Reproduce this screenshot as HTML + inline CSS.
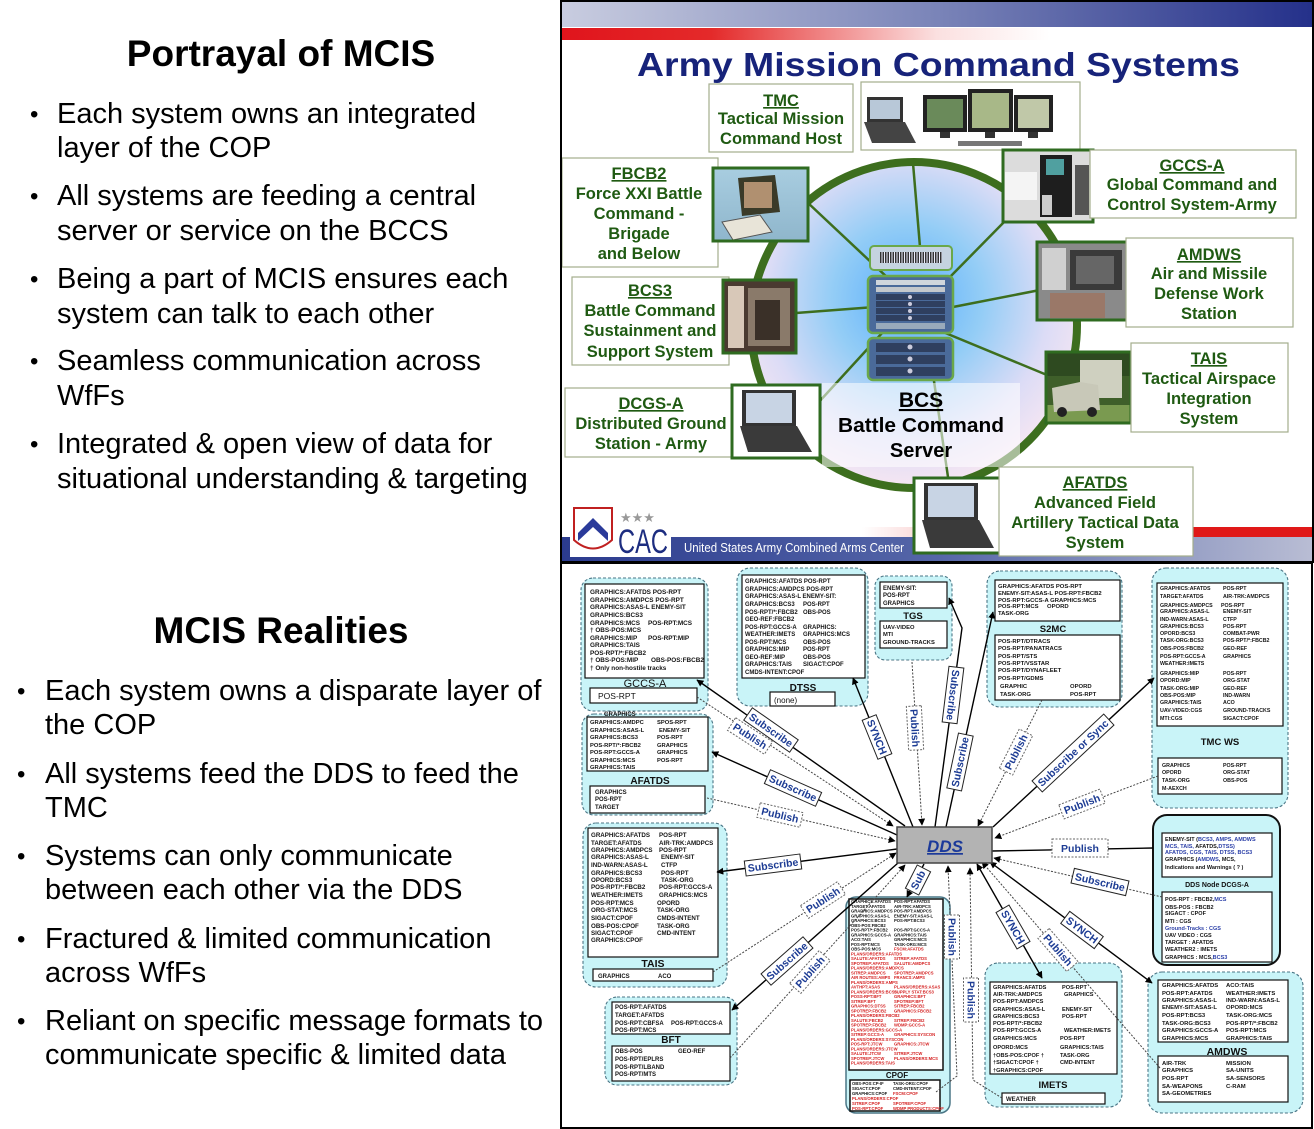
<!DOCTYPE html>
<html><head><meta charset="utf-8"><style>
html,body{margin:0;padding:0;background:#fff;}
svg{display:block;}
text{font-family:"Liberation Sans",Arial,sans-serif;}
.n{font-weight:bold;fill:#151515;}
.g{fill:#1f5a12;font-weight:bold;font-size:16.5px;text-anchor:middle;}
.lt{fill:#1d3c94;font-weight:bold;font-size:10.5px;text-anchor:middle;}
.no{fill:#c9f4f8;stroke:#4b7686;stroke-width:1.1;stroke-dasharray:3 2;}
.ib{fill:#fff;stroke:#111;stroke-width:1.2;}
.lb{fill:#fff;stroke:#222;stroke-width:1;}
.ld{fill:#fff;stroke:#666;stroke-width:1;stroke-dasharray:2 1.5;}
.tb{fill:#fff;stroke:#a3ad8c;stroke-width:1.2;}
.fr{fill:none;stroke:#2f6b20;stroke-width:3;}
.red{fill:#d42020;}
.blu{fill:#2b3fa8;}
.nl{font-weight:bold;text-anchor:middle;fill:#111;}
.sl{stroke:#000;stroke-width:1.4;fill:none;}
.dl{stroke:#444;stroke-width:1;stroke-dasharray:2 1.5;fill:none;}
</style></head><body>
<svg width="1314" height="1129" viewBox="0 0 1314 1129" xmlns="http://www.w3.org/2000/svg">
<defs>
<linearGradient id="topband" x1="0" x2="1"><stop offset="0" stop-color="#c9cde0"/><stop offset="0.5" stop-color="#7a84b8"/><stop offset="1" stop-color="#24308a"/></linearGradient>
<linearGradient id="redtop" x1="0" x2="1"><stop offset="0" stop-color="#e0141c"/><stop offset="0.2" stop-color="#e42a2a"/><stop offset="0.5" stop-color="#fbe0e0"/><stop offset="0.65" stop-color="#fff"/></linearGradient>
<linearGradient id="redbot" x1="0" x2="1"><stop offset="0" stop-color="#fff"/><stop offset="0.4" stop-color="#fff"/><stop offset="0.55" stop-color="#f6b8b8"/><stop offset="0.8" stop-color="#e01818"/><stop offset="1" stop-color="#e01818"/></linearGradient>
<linearGradient id="bluebot" x1="0" x2="1"><stop offset="0" stop-color="#2b3b8e"/><stop offset="0.5" stop-color="#5566a8"/><stop offset="1" stop-color="#b9bdd4"/></linearGradient>
<radialGradient id="rg" cx="0.48" cy="0.42" r="0.58"><stop offset="0" stop-color="#58aefc"/><stop offset="0.4" stop-color="#94cdf6"/><stop offset="0.75" stop-color="#dcdcf6"/><stop offset="1" stop-color="#f6e6f2"/></radialGradient>
<linearGradient id="fbg" x1="0" y1="0" x2="0" y2="1"><stop offset="0" stop-color="#a8cde0"/><stop offset="1" stop-color="#8fb6cc"/></linearGradient>
<marker id="ae" viewBox="0 0 10 10" refX="9" refY="5" markerWidth="7" markerHeight="7" markerUnits="userSpaceOnUse" orient="auto"><path d="M0,0L10,5L0,10z" fill="#000"/></marker>
<marker id="as" viewBox="0 0 10 10" refX="9" refY="5" markerWidth="7" markerHeight="7" markerUnits="userSpaceOnUse" orient="auto-start-reverse"><path d="M0,0L10,5L0,10z" fill="#000"/></marker>
</defs>

<!-- LEFT TEXT -->
<g fill="#000">
<text x="281" y="66" font-size="37" font-weight="bold" text-anchor="middle">Portrayal of MCIS</text>
<g font-size="24"><text x="30" y="122">•</text><text x="30" y="204">•</text><text x="30" y="287">•</text><text x="30" y="369">•</text><text x="30" y="452">•</text></g>
<g font-size="29">
<text x="57" y="123">Each system owns an integrated</text>
<text x="57" y="157">layer of the COP</text>
<text x="57" y="205">All systems are feeding a central</text>
<text x="57" y="240">server or service on the BCCS</text>
<text x="57" y="288">Being a part of MCIS ensures each</text>
<text x="57" y="323">system can talk to each other</text>
<text x="57" y="370">Seamless communication across</text>
<text x="57" y="405">WfFs</text>
<text x="57" y="453">Integrated &amp; open view of data for</text>
<text x="57" y="488">situational understanding &amp; targeting</text>
</g>
<text x="281" y="643" font-size="37" font-weight="bold" text-anchor="middle">MCIS Realities</text>
<g font-size="24"><text x="17" y="699">•</text><text x="17" y="782">•</text><text x="17" y="864">•</text><text x="17" y="947">•</text><text x="17" y="1029">•</text></g>
<g font-size="29">
<text x="45" y="700">Each system owns a disparate layer of</text>
<text x="45" y="734">the COP</text>
<text x="45" y="783">All systems feed the DDS to feed the</text>
<text x="45" y="817">TMC</text>
<text x="45" y="865">Systems can only communicate</text>
<text x="45" y="899">between each other via the DDS</text>
<text x="45" y="948">Fractured &amp; limited communication</text>
<text x="45" y="982">across WfFs</text>
<text x="45" y="1030">Reliant on specific message formats to</text>
<text x="45" y="1064">communicate specific &amp; limited data</text>
</g>
</g>

<!-- TOP SLIDE -->
<rect x="560" y="0" width="754" height="563" fill="#fff"/>
<rect x="561" y="0" width="752" height="27" fill="url(#topband)"/>
<rect x="561" y="28" width="752" height="12" fill="url(#redtop)"/>
<text x="637" y="76" font-size="33" font-weight="bold" fill="#17237a" textLength="603" lengthAdjust="spacingAndGlyphs">Army Mission Command Systems</text>

<!-- bottom bands -->
<rect x="561" y="527" width="752" height="10" fill="url(#redbot)"/>
<rect x="561" y="537" width="752" height="24" fill="url(#bluebot)"/>
<text x="684" y="552" font-size="13" fill="#fff" textLength="220" lengthAdjust="spacingAndGlyphs">United States Army Combined Arms Center</text>
<rect x="570" y="503" width="101" height="54" fill="#fff"/>
<path d="M574,508 L612,508 L612,540 Q593,557 574,540 Z" fill="#fff" stroke="#c02020" stroke-width="2"/>
<polygon points="578,533 593,518 608,533 608,541 593,527 578,541" fill="#2a3a9a"/>
<text x="620" y="522" font-size="13" fill="#999">★★★</text>
<text x="618" y="553" font-size="34" fill="#1d2d80" textLength="50" lengthAdjust="spacingAndGlyphs">CAC</text>

<!-- ring -->
<circle cx="914" cy="325" r="163" fill="url(#rg)" stroke="#3d6e1e" stroke-width="8"/>
<g stroke="#3d6e1e" stroke-width="2.5">
<line x1="913" y1="163" x2="920" y2="247"/>
<line x1="807" y1="202" x2="890" y2="280"/>
<line x1="1008" y1="218" x2="947" y2="280"/>
<line x1="796" y1="313" x2="875" y2="307"/>
<line x1="1040" y1="290" x2="953" y2="307"/>
<line x1="1047" y1="375" x2="943" y2="332"/>
<line x1="818" y1="403" x2="883" y2="332"/>
<line x1="948" y1="477" x2="928" y2="340"/>
</g>
<!-- rack -->
<rect x="870" y="246" width="82" height="24" rx="4" fill="#c5d3e0" stroke="#6aa84a" stroke-width="2"/>
<rect x="880" y="252" width="62" height="11" fill="#eef"/>
<line x1="880" y1="257.5" x2="942" y2="257.5" stroke="#333" stroke-width="11" stroke-dasharray="1.5 1"/>
<rect x="868" y="276" width="85" height="57" rx="5" fill="#4a6a9a" stroke="#6aa84a" stroke-width="2.5"/>
<rect x="876" y="280" width="69" height="5" fill="#d0d6dc"/>
<rect x="876" y="287" width="69" height="5" fill="#c4c8cc"/>
<rect x="876" y="294" width="69" height="6" fill="#2f3f5f"/>
<rect x="876" y="301" width="69" height="6" fill="#2f3f5f"/>
<rect x="876" y="308" width="69" height="6" fill="#2f3f5f"/>
<rect x="876" y="315" width="69" height="6" fill="#2f3f5f"/>
<rect x="876" y="323" width="69" height="6" fill="#9ab"/>
<rect x="868" y="338" width="85" height="42" rx="5" fill="#4a6a9a" stroke="#6aa84a" stroke-width="2.5"/>
<rect x="876" y="343" width="69" height="9" fill="#2f3f5f"/>
<rect x="876" y="355" width="69" height="9" fill="#2f3f5f"/>
<rect x="876" y="367" width="69" height="9" fill="#2f3f5f"/>
<g fill="#ccd"><circle cx="910" cy="297" r="2"/><circle cx="910" cy="304" r="2"/><circle cx="910" cy="311" r="2"/><circle cx="910" cy="318" r="2"/><circle cx="910" cy="347" r="2.5"/><circle cx="910" cy="359" r="2.5"/><circle cx="910" cy="371" r="2.5"/></g>

<!-- BCS -->
<rect x="822" y="383" width="198" height="84" fill="#fff" fill-opacity="0.55"/>
<text x="921" y="407" font-size="21" font-weight="bold" text-anchor="middle" text-decoration="underline">BCS</text>
<text x="921" y="432" font-size="20" font-weight="bold" text-anchor="middle" textLength="166" lengthAdjust="spacingAndGlyphs">Battle Command</text>
<text x="921" y="457" font-size="20" font-weight="bold" text-anchor="middle">Server</text>

<!-- TMC -->
<rect x="709" y="84" width="144" height="68" class="tb"/>
<text class="g" x="781" y="106" text-decoration="underline">TMC</text>
<text class="g" x="781" y="124">Tactical Mission</text>
<text class="g" x="781" y="144">Command Host</text>
<rect x="861" y="82" width="219" height="68" class="tb"/>
<rect x="867" y="97" width="36" height="25" fill="#333"/><rect x="870" y="100" width="30" height="19" fill="#b8c8d8"/>
<polygon points="864,122 905,122 916,143 872,143" fill="#444"/>
<rect x="923" y="95" width="44" height="37" fill="#222"/><rect x="927" y="99" width="36" height="29" fill="#6a8a5a"/><rect x="940" y="132" width="10" height="6" fill="#333"/>
<rect x="968" y="89" width="45" height="43" fill="#222"/><rect x="972" y="93" width="37" height="35" fill="#a8b888"/><rect x="985" y="132" width="10" height="6" fill="#333"/>
<rect x="1014" y="95" width="39" height="37" fill="#222"/><rect x="1018" y="99" width="31" height="29" fill="#c0c8a8"/><rect x="1028" y="132" width="10" height="6" fill="#333"/>
<rect x="958" y="141" width="64" height="5" fill="#777"/>

<!-- FBCB2 -->
<rect x="562" y="158" width="156" height="109" class="tb"/>
<text class="g" x="639" y="179" text-decoration="underline">FBCB2</text>
<text class="g" x="639" y="199">Force XXI Battle</text>
<text class="g" x="639" y="219">Command -</text>
<text class="g" x="639" y="239">Brigade</text>
<text class="g" x="639" y="259">and Below</text>
<rect x="713" y="168" width="95" height="73" fill="url(#fbg)"/>
<polygon points="738,178 775,175 780,212 742,216" fill="#3a3a28"/><rect x="744" y="182" width="28" height="26" fill="#b09070"/>
<polygon points="722,222 760,215 772,232 733,240" fill="#e8e4d8" stroke="#555"/>
<rect x="713" y="168" width="95" height="73" class="fr"/>

<!-- GCCS-A -->
<rect x="1003" y="150" width="90" height="72" fill="#dcdcdc"/>
<rect x="1005" y="172" width="32" height="28" fill="#f4f4f4"/>
<rect x="1040" y="155" width="32" height="62" fill="#1e1e1e"/><rect x="1046" y="159" width="18" height="16" fill="#50a0a0"/>
<rect x="1042" y="195" width="10" height="20" fill="#ccc"/>
<rect x="1075" y="165" width="14" height="50" fill="#555"/>
<rect x="1003" y="150" width="90" height="72" class="fr"/>
<rect x="1090" y="150" width="206" height="68" class="tb"/>
<text class="g" x="1192" y="171" text-decoration="underline">GCCS-A</text>
<text class="g" x="1192" y="190">Global Command and</text>
<text class="g" x="1192" y="210">Control System-Army</text>

<!-- AMDWS -->
<rect x="1037" y="242" width="91" height="78" fill="#8a8a8a"/>
<rect x="1042" y="248" width="24" height="42" fill="#d0d0d0"/>
<rect x="1070" y="250" width="52" height="40" fill="#3a3a3a"/>
<rect x="1076" y="256" width="38" height="28" fill="#666"/>
<rect x="1050" y="293" width="55" height="25" fill="#9a7868"/>
<rect x="1037" y="242" width="91" height="78" class="fr"/>
<rect x="1126" y="238" width="167" height="89" class="tb"/>
<text class="g" x="1209" y="260" text-decoration="underline">AMDWS</text>
<text class="g" x="1209" y="279">Air and Missile</text>
<text class="g" x="1209" y="299">Defense Work</text>
<text class="g" x="1209" y="319">Station</text>

<!-- BCS3 -->
<rect x="572" y="277" width="157" height="88" class="tb"/>
<text class="g" x="650" y="296" text-decoration="underline">BCS3</text>
<text class="g" x="650" y="316">Battle Command</text>
<text class="g" x="650" y="336">Sustainment and</text>
<text class="g" x="650" y="357">Support System</text>
<rect x="723" y="280" width="73" height="73" fill="#4a3a30"/>
<rect x="728" y="286" width="16" height="62" fill="#d8c8b8"/>
<rect x="748" y="288" width="42" height="58" fill="#8a7a6a"/>
<rect x="755" y="300" width="25" height="40" fill="#3a3028"/>
<rect x="723" y="280" width="73" height="73" class="fr"/>

<!-- TAIS -->
<rect x="1046" y="352" width="85" height="71" fill="#3f5f2a"/>
<rect x="1046" y="352" width="85" height="24" fill="#2e4a20"/>
<rect x="1046" y="405" width="85" height="18" fill="#7a9a50"/>
<rect x="1080" y="360" width="42" height="38" fill="#cfd0c0"/>
<polygon points="1052,388 1080,382 1098,385 1100,410 1054,412" fill="#c8c8b8"/>
<circle cx="1062" cy="412" r="5" fill="#222"/><circle cx="1092" cy="412" r="5" fill="#222"/>
<rect x="1046" y="352" width="85" height="71" class="fr"/>
<rect x="1131" y="343" width="157" height="89" class="tb"/>
<text class="g" x="1209" y="364" text-decoration="underline">TAIS</text>
<text class="g" x="1209" y="384">Tactical Airspace</text>
<text class="g" x="1209" y="404">Integration</text>
<text class="g" x="1209" y="424">System</text>

<!-- DCGS-A -->
<rect x="565" y="388" width="168" height="69" class="tb"/>
<text class="g" x="651" y="409" text-decoration="underline">DCGS-A</text>
<text class="g" x="651" y="429">Distributed Ground</text>
<text class="g" x="651" y="449">Station - Army</text>
<rect x="732" y="385" width="88" height="73" fill="#fff"/>
<rect x="742" y="390" width="54" height="36" fill="#333"/><rect x="746" y="393" width="46" height="30" fill="#c8d4e4"/>
<polygon points="740,426 797,426 812,452 748,452" fill="#3a3a3a"/>
<rect x="732" y="385" width="88" height="73" class="fr"/>

<!-- AFATDS -->
<rect x="914" y="478" width="86" height="75" fill="#fff"/>
<rect x="924" y="483" width="54" height="37" fill="#333"/><rect x="928" y="486" width="46" height="31" fill="#c8d4e4"/>
<polygon points="922,520 979,520 994,548 930,548" fill="#3a3a3a"/>
<rect x="914" y="478" width="86" height="75" class="fr"/>
<rect x="999" y="467" width="194" height="89" class="tb"/>
<text class="g" x="1095" y="488" text-decoration="underline">AFATDS</text>
<text class="g" x="1095" y="508">Advanced Field</text>
<text class="g" x="1095" y="528">Artillery  Tactical Data</text>
<text class="g" x="1095" y="548">System</text>

<rect x="561" y="1" width="752" height="561" fill="none" stroke="#000" stroke-width="2"/>

<!-- BOTTOM DIAGRAM -->
<rect x="561" y="563" width="751" height="565" fill="#fff" stroke="#000" stroke-width="2"/>

<!-- GCCS-A node -->
<rect x="581" y="578" width="127" height="133" rx="12" class="no"/>
<rect x="585" y="584" width="119" height="94" class="ib"/>
<g class="n" font-size="6.4">
<text x="590" y="594">GRAPHICS:AFATDS POS-RPT</text>
<text x="590" y="602">GRAPHICS:AMDPCS POS-RPT</text>
<text x="590" y="609">GRAPHICS:ASAS-L ENEMY-SIT</text>
<text x="590" y="617">GRAPHICS:BCS3</text>
<text x="590" y="625">GRAPHICS:MCS<tspan x="648">POS-RPT:MCS</tspan></text>
<text x="590" y="632">† OBS-POS:MCS</text>
<text x="590" y="640">GRAPHICS:MIP<tspan x="648">POS-RPT:MIP</tspan></text>
<text x="590" y="647">GRAPHICS:TAIS</text>
<text x="590" y="655">POS-RPT/*:FBCB2</text>
<text x="590" y="662">† OBS-POS:MIP<tspan x="651">OBS-POS:FBCB2</tspan></text>
<text x="590" y="670">†  Only non-hostile tracks</text>
</g>
<text x="645" y="687" font-size="11" text-anchor="middle" fill="#111">GCCS-A</text>
<rect x="590" y="688" width="107" height="15" class="ib"/>
<text x="598" y="699" font-size="8.5" fill="#111">POS-RPT</text>

<!-- AFATDS node -->
<rect x="582" y="714" width="131" height="101" rx="12" class="no"/>
<text x="604" y="716" font-size="6" class="n">GRAPHICS</text>
<rect x="587" y="717" width="121" height="54" class="ib"/>
<g class="n" font-size="5.8">
<text x="590" y="724">GRAPHICS:AMDPC<tspan x="657">SPOS-RPT</tspan></text>
<text x="590" y="732">GRAPHICS:ASAS-L<tspan x="659">ENEMY-SIT</tspan></text>
<text x="590" y="739">GRAPHICS:BCS3<tspan x="657">POS-RPT</tspan></text>
<text x="590" y="747">POS-RPT/*:FBCB2<tspan x="657">GRAPHICS</tspan></text>
<text x="590" y="754">POS-RPT:GCCS-A<tspan x="657">GRAPHICS</tspan></text>
<text x="590" y="762">GRAPHICS:MCS<tspan x="657">POS-RPT</tspan></text>
<text x="590" y="769">GRAPHICS:TAIS</text>
</g>
<text x="650" y="784" font-size="10" class="nl">AFATDS</text>
<rect x="590" y="786" width="115" height="27" class="ib"/>
<g class="n" font-size="6"><text x="595" y="794">GRAPHICS</text><text x="595" y="801">POS-RPT</text><text x="595" y="809">TARGET</text></g>

<!-- TAIS node -->
<rect x="583" y="823" width="144" height="164" rx="13" class="no"/>
<rect x="588" y="828" width="130" height="129" class="ib"/>
<g class="n" font-size="6.2">
<text x="591" y="837">GRAPHICS:AFATDS<tspan x="659">POS-RPT</tspan></text>
<text x="591" y="845">TARGET:AFATDS<tspan x="659">AIR-TRK:AMDPCS</tspan></text>
<text x="591" y="852">GRAPHICS:AMDPCS<tspan x="659">POS-RPT</tspan></text>
<text x="591" y="859">GRAPHICS:ASAS-L<tspan x="661">ENEMY-SIT</tspan></text>
<text x="591" y="867">IND-WARN:ASAS-L<tspan x="661">CTFP</tspan></text>
<text x="591" y="875">GRAPHICS:BCS3<tspan x="661">POS-RPT</tspan></text>
<text x="591" y="882">OPORD:BCS3<tspan x="661">TASK-ORG</tspan></text>
<text x="591" y="889">POS-RPT/*:FBCB2<tspan x="659">POS-RPT:GCCS-A</tspan></text>
<text x="591" y="897">WEATHER:IMETS<tspan x="659">GRAPHICS:MCS</tspan></text>
<text x="591" y="905">POS-RPT:MCS<tspan x="657">OPORD</tspan></text>
<text x="591" y="912">ORG-STAT:MCS<tspan x="657">TASK-ORG</tspan></text>
<text x="591" y="920">SIGACT:CPOF<tspan x="657">CMDS-INTENT</tspan></text>
<text x="591" y="928">OBS-POS:CPOF<tspan x="657">TASK-ORG</tspan></text>
<text x="591" y="935">SIGACT:CPOF<tspan x="657">CMD-INTENT</tspan></text>
<text x="591" y="942">GRAPHICS:CPOF</text>
</g>
<text x="653" y="967" font-size="10.5" class="nl">TAIS</text>
<rect x="593" y="969" width="120" height="12" class="ib"/>
<g class="n" font-size="6"><text x="598" y="978">GRAPHICS</text><text x="658" y="978">ACO</text></g>

<!-- BFT node -->
<rect x="605" y="997" width="132" height="88" rx="12" class="no"/>
<rect x="612" y="1002" width="118" height="32" class="ib"/>
<g class="n" font-size="6">
<text x="615" y="1009">POS-RPT:AFATDS</text>
<text x="615" y="1017">TARGET:AFATDS</text>
<text x="615" y="1025">POS-RPT:CBFSA<tspan x="671">POS-RPT:GCCS-A</tspan></text>
<text x="615" y="1032">POS-RPT:MCS</text>
</g>
<text x="671" y="1043" font-size="10" class="nl">BFT</text>
<rect x="612" y="1046" width="118" height="35" class="ib"/>
<g class="n" font-size="6">
<text x="615" y="1053">OBS-POS<tspan x="678">GEO-REF</tspan></text>
<text x="615" y="1061">POS-RPT/EPLRS</text>
<text x="615" y="1069">POS-RPT/LBAND</text>
<text x="615" y="1076">POS-RPT/MTS</text>
</g>

<!-- DTSS node -->
<rect x="737" y="568" width="131" height="138" rx="13" class="no"/>
<rect x="742" y="575" width="123" height="103" class="ib"/>
<g class="n" font-size="6">
<text x="745" y="583">GRAPHICS:AFATDS POS-RPT</text>
<text x="745" y="591">GRAPHICS:AMDPCS POS-RPT</text>
<text x="745" y="598">GRAPHICS:ASAS-L ENEMY-SIT:</text>
<text x="745" y="606">GRAPHICS:BCS3<tspan x="803">POS-RPT</tspan></text>
<text x="745" y="614">POS-RPT/*:FBCB2<tspan x="803">OBS-POS</tspan></text>
<text x="745" y="621">GEO-REF:FBCB2</text>
<text x="745" y="629">POS-RPT:GCCS-A<tspan x="803">GRAPHICS:</tspan></text>
<text x="745" y="636">WEATHER:IMETS<tspan x="803">GRAPHICS:MCS</tspan></text>
<text x="745" y="644">POS-RPT:MCS<tspan x="803">OBS-POS</tspan></text>
<text x="745" y="651">GRAPHICS:MIP<tspan x="803">POS-RPT</tspan></text>
<text x="745" y="659">GEO-REF:MIP<tspan x="803">OBS-POS</tspan></text>
<text x="745" y="666">GRAPHICS:TAIS<tspan x="803">SIGACT:CPOF</tspan></text>
<text x="745" y="674">CMDS-INTENT:CPOF</text>
</g>
<text x="803" y="691" font-size="10" class="nl">DTSS</text>
<rect x="770" y="692" width="65" height="14" class="ib"/>
<text x="774" y="703" font-size="8" fill="#111">(none)</text>

<!-- TGS node -->
<rect x="875" y="576" width="77" height="84" rx="10" class="no"/>
<rect x="880" y="582" width="67" height="26" class="ib"/>
<g class="n" font-size="6"><text x="883" y="590">ENEMY-SIT:</text><text x="883" y="597">POS-RPT</text><text x="883" y="605">GRAPHICS</text></g>
<text x="913" y="619" font-size="9.5" class="nl">TGS</text>
<rect x="880" y="621" width="67" height="27" class="ib"/>
<g class="n" font-size="5.8"><text x="883" y="629">UAV-VIDEO</text><text x="883" y="636">MTI</text><text x="883" y="644">GROUND-TRACKS</text></g>

<!-- S2MC node -->
<rect x="987" y="571" width="135" height="136" rx="13" class="no"/>
<rect x="995" y="580" width="125" height="41" class="ib"/>
<g class="n" font-size="5.9">
<text x="998" y="588">GRAPHICS:AFATDS POS-RPT</text>
<text x="998" y="595">ENEMY-SIT:ASAS-L POS-RPT:FBCB2</text>
<text x="998" y="602">POS-RPT:GCCS-A  GRAPHICS:MCS</text>
<text x="998" y="608">POS-RPT:MCS<tspan x="1047">OPORD</tspan></text>
<text x="998" y="615">TASK-ORG</text>
</g>
<text x="1053" y="632" font-size="9.5" class="nl">S2MC</text>
<rect x="995" y="635" width="125" height="65" class="ib"/>
<g class="n" font-size="5.9">
<text x="998" y="643">POS-RPT/DTRACS</text>
<text x="998" y="650">POS-RPT/PANATRACS</text>
<text x="998" y="658">POS-RPT/STS</text>
<text x="998" y="665">POS-RPT/VSSTAR</text>
<text x="998" y="672">POS-RPT/DYNAFLEET</text>
<text x="998" y="680">POS-RPT/GDMS</text>
<text x="1000" y="688">GRAPHIC<tspan x="1070">OPORD</tspan></text>
<text x="1000" y="696">TASK-ORG<tspan x="1070">POS-RPT</tspan></text>
</g>

<!-- TMC WS node -->
<rect x="1152" y="568" width="136" height="240" rx="14" class="no"/>
<rect x="1157" y="583" width="126" height="143" class="ib"/>
<g class="n" font-size="5.3">
<text x="1160" y="590">GRAPHICS:AFATDS<tspan x="1223">POS-RPT</tspan></text>
<text x="1160" y="598">TARGET:AFATDS<tspan x="1223">AIR-TRK:AMDPCS</tspan></text>
<text x="1160" y="607">GRAPHICS:AMDPCS<tspan x="1221">POS-RPT</tspan></text>
<text x="1160" y="613">GRAPHICS:ASAS-L<tspan x="1223">ENEMY-SIT</tspan></text>
<text x="1160" y="621">IND-WARN:ASAS-L<tspan x="1223">CTFP</tspan></text>
<text x="1160" y="628">GRAPHICS:BCS3<tspan x="1223">POS-RPT</tspan></text>
<text x="1160" y="635">OPORD:BCS3<tspan x="1223">COMBAT-PWR</tspan></text>
<text x="1160" y="642">TASK-ORG:BCS3<tspan x="1223">POS-RPT/*:FBCB2</tspan></text>
<text x="1160" y="650">OBS-POS:FBCB2<tspan x="1223">GEO-REF</tspan></text>
<text x="1160" y="658">POS-RPT:GCCS-A<tspan x="1223">GRAPHICS</tspan></text>
<text x="1160" y="665">WEATHER:IMETS</text>
<text x="1160" y="675">GRAPHICS:MIP<tspan x="1223">POS-RPT</tspan></text>
<text x="1160" y="682">OPORD:MIP<tspan x="1223">ORG-STAT</tspan></text>
<text x="1160" y="690">TASK-ORG:MIP<tspan x="1223">GEO-REF</tspan></text>
<text x="1160" y="697">OBS-POS:MIP<tspan x="1223">IND-WARN</tspan></text>
<text x="1160" y="704">GRAPHICS:TAIS<tspan x="1223">ACO</tspan></text>
<text x="1160" y="712">UAV-VIDEO:CGS<tspan x="1223">GROUND-TRACKS</tspan></text>
<text x="1160" y="720">MTI:CGS<tspan x="1223">SIGACT:CPOF</tspan></text>
</g>
<text x="1220" y="745" font-size="9.5" class="nl">TMC WS</text>
<rect x="1158" y="758" width="124" height="36" class="ib"/>
<g class="n" font-size="5.3">
<text x="1162" y="767">GRAPHICS<tspan x="1223">POS-RPT</tspan></text>
<text x="1162" y="774">OPORD<tspan x="1223">ORG-STAT</tspan></text>
<text x="1162" y="782">TASK-ORG<tspan x="1223">OBS-POS</tspan></text>
<text x="1162" y="790">M-AEXCH</text>
</g>

<!-- DCGS-A node -->
<rect x="1153" y="815" width="127" height="150" rx="14" fill="#c9f4f8" stroke="#111" stroke-width="2"/>
<rect x="1162" y="833" width="110" height="44" class="ib"/>
<g class="n" font-size="5.5">
<text x="1165" y="841">ENEMY-SIT (<tspan class="blu">BCS3, AMPS, AMDWS</tspan></text>
<text x="1165" y="848"><tspan class="blu">MCS, TAIS,</tspan> AFATDS,<tspan class="blu">DTSS)</tspan></text>
<text x="1165" y="854" class="blu">AFATDS, CGS, TAIS, DTSS,  BCS3</text>
<text x="1165" y="861">GRAPHICS (<tspan class="blu">AMDWS</tspan>, MCS,</text>
<text x="1165" y="869">Indications and Warnings ( ? )</text>
</g>
<text x="1217" y="887" font-size="7" class="nl">DDS Node DCGS-A</text>
<rect x="1162" y="892" width="110" height="70" class="ib"/>
<g class="n" font-size="5.5">
<text x="1165" y="901">POS-RPT : FBCB2,<tspan class="blu">MCS</tspan></text>
<text x="1165" y="909">OBS-POS : FBCB2</text>
<text x="1165" y="915">SIGACT : CPOF</text>
<text x="1165" y="923">MTI : CGS</text>
<text x="1165" y="930" class="blu">Ground-Tracks : CGS</text>
<text x="1165" y="937">UAV VIDEO : CGS</text>
<text x="1165" y="944">TARGET : AFATDS</text>
<text x="1165" y="951">WEATHER2 : IMETS</text>
<text x="1165" y="959">GRAPHICS : MCS,<tspan class="blu">BCS3</tspan></text>
</g>

<!-- IMETS node -->
<rect x="985" y="963" width="137" height="144" rx="13" class="no"/>
<rect x="990" y="982" width="127" height="92" class="ib"/>
<g class="n" font-size="5.6">
<text x="993" y="989">GRAPHICS:AFATDS<tspan x="1062">POS-RPT</tspan></text>
<text x="993" y="996">AIR-TRK:AMDPCS<tspan x="1064">GRAPHICS</tspan></text>
<text x="993" y="1003">POS-RPT:AMDPCS</text>
<text x="993" y="1011">GRAPHICS:ASAS-L<tspan x="1062">ENEMY-SIT</tspan></text>
<text x="993" y="1018">GRAPHICS:BCS3<tspan x="1062">POS-RPT</tspan></text>
<text x="993" y="1025">POS-RPT/*:FBCB2</text>
<text x="993" y="1032">POS-RPT:GCCS-A<tspan x="1064">WEATHER:IMETS</tspan></text>
<text x="993" y="1040">GRAPHICS:MCS<tspan x="1060">POS-RPT</tspan></text>
<text x="993" y="1049">OPORD:MCS<tspan x="1060">GRAPHICS:TAIS</tspan></text>
<text x="993" y="1057">†OBS-POS:CPOF  †<tspan x="1060">TASK-ORG</tspan></text>
<text x="993" y="1064">†SIGACT:CPOF    †<tspan x="1060">CMD-INTENT</tspan></text>
<text x="993" y="1072">†GRAPHICS:CPOF</text>
</g>
<text x="1053" y="1088" font-size="9.5" class="nl">IMETS</text>
<rect x="1002" y="1093" width="103" height="11" class="ib"/>
<text x="1006" y="1101" font-size="6" class="n">WEATHER</text>

<!-- AMDWS node -->
<rect x="1148" y="972" width="155" height="141" rx="14" class="no"/>
<rect x="1158" y="980" width="130" height="62" class="ib"/>
<g class="n" font-size="5.9">
<text x="1162" y="987">GRAPHICS:AFATDS<tspan x="1226">ACO:TAIS</tspan></text>
<text x="1162" y="995">POS-RPT:AFATDS<tspan x="1226">WEATHER:IMETS</tspan></text>
<text x="1162" y="1002">GRAPHICS:ASAS-L<tspan x="1226">IND-WARN:ASAS-L</tspan></text>
<text x="1162" y="1009">ENEMY-SIT:ASAS-L<tspan x="1226">OPORD:MCS</tspan></text>
<text x="1162" y="1017">POS-RPT:BCS3<tspan x="1226">TASK-ORG:MCS</tspan></text>
<text x="1162" y="1025">TASK-ORG:BCS3<tspan x="1226">POS-RPT/*:FBCB2</tspan></text>
<text x="1162" y="1032">GRAPHICS:GCCS-A<tspan x="1226">POS-RPT:MCS</tspan></text>
<text x="1162" y="1040">GRAPHICS:MCS<tspan x="1226">GRAPHICS:TAIS</tspan></text>
</g>
<text x="1227" y="1055" font-size="10.5" class="nl">AMDWS</text>
<rect x="1158" y="1056" width="130" height="46" class="ib"/>
<g class="n" font-size="5.9">
<text x="1162" y="1065">AIR-TRK<tspan x="1226">MISSION</tspan></text>
<text x="1162" y="1072">GRAPHICS<tspan x="1226">SA-UNITS</tspan></text>
<text x="1162" y="1080">POS-RPT<tspan x="1226">SA-SENSORS</tspan></text>
<text x="1162" y="1088">SA-WEAPONS<tspan x="1226">C-RAM</tspan></text>
<text x="1162" y="1095">SA-GEOMETRIES</text>
</g>

<!-- CPOF node -->
<rect x="846" y="897" width="104" height="216" rx="10" fill="#c9f4f8" stroke="#4b7686" stroke-width="1.5"/>
<rect x="849" y="899" width="94" height="171" fill="#fff" stroke="#111" stroke-width="1.5"/>
<g class="n" font-size="4.2">
<text x="851" y="903">GRAPHICS:AFATDS<tspan x="894">POS-RPT:AFATDS</tspan></text>
<text x="851" y="907.75">TARGET:AFATDS<tspan x="894">AIR-TRK:AMDPCS</tspan></text>
<text x="851" y="912.5">GRAPHICS:AMDPCS<tspan x="894">POS-RPT:AMDPCS</tspan></text>
<text x="851" y="917.25">GRAPHICS:ASAS-L<tspan x="894">ENEMY-SIT:ASAS-L</tspan></text>
<text x="851" y="922">GRAPHICS:BCS3<tspan x="894">POS-RPT:BCS3</tspan></text>
<text x="851" y="926.75">OBS-POS:FBCB2</text>
<text x="851" y="931.5">POS-RPT/*:FBCB2<tspan x="894">POS-RPT:GCCS-A</tspan></text>
<text x="851" y="936.25">GRAPHICS:GCCS-A<tspan x="894">GRAPHICS:TAIS</tspan></text>
<text x="851" y="941">ACO:TAIS<tspan x="894">GRAPHICS:MCS</tspan></text>
<text x="851" y="945.75">POS-RPT:MCS<tspan x="894">TASK-ORG:MCS</tspan></text>
<text x="851" y="950.5">OBS-POS:MCS<tspan x="894" class="red">FSCM:AFATDS</tspan></text>
<g class="red">
<text x="851" y="955.25">PLANS/ORDERS:AFATDS</text>
<text x="851" y="960">SALUTE:AFATDS<tspan x="894">SITREP:AFATDS</tspan></text>
<text x="851" y="964.75">SPOTREP:AFATDS<tspan x="894">SALUTE:AMDPCS</tspan></text>
<text x="851" y="969.5">PLANS/ORDERS:AMDPCS</text>
<text x="851" y="974.25">SITREP:AMDPCS<tspan x="894">SPOTREP:AMDPCS</tspan></text>
<text x="851" y="979">AIR ROUTES:AMPS<tspan x="894">FRANCS:AMPS</tspan></text>
<text x="851" y="983.75">PLANS/ORDERS:AMPS</text>
<text x="851" y="988.5">AVTHPT:ASAS<tspan x="894">PLANS/ORDERS:ASAS</tspan></text>
<text x="851" y="993.25">PLANS/ORDERS:BCS3<tspan x="894">SUPPLY STAT:BCS3</tspan></text>
<text x="851" y="998">POSS-RPT:BFT<tspan x="894">GRAPHICS:BFT</tspan></text>
<text x="851" y="1002.75">SITREP:BFT<tspan x="894">SPOTREP:BFT</tspan></text>
<text x="851" y="1007.5">GRAPHICS:DTSS<tspan x="894">SITREP:FBCB2</tspan></text>
<text x="851" y="1012.25">SPOTREP:FBCB2<tspan x="894">GRAPHICS:FBCB2</tspan></text>
<text x="851" y="1017">PLANS/ORDERS:FBCB2</text>
<text x="851" y="1021.75">SALUTE:FBCB2<tspan x="894">SITREP:FBCB2</tspan></text>
<text x="851" y="1026.5">SPOTREP:FBCB2<tspan x="894">WDMP:GCCS-A</tspan></text>
<text x="851" y="1031.25">PLANS/ORDERS:GCCS-A</text>
<text x="851" y="1036">SITREP:GCCS-A<tspan x="894">GRAPHICS:SYSCON</tspan></text>
<text x="851" y="1040.75">PLANS/ORDERS:SYSCON</text>
<text x="851" y="1045.5">POS-RPT:JTCW<tspan x="894">GRAPHICS:JTCW</tspan></text>
<text x="851" y="1050.25">PLANS/ORDERS:JTCW</text>
<text x="851" y="1055">SALUTE:JTCW<tspan x="894">SITREP:JTCW</tspan></text>
<text x="851" y="1059.75">SPOTREP:JTCW<tspan x="894">PLANS/ORDERS:MCS</tspan></text>
<text x="851" y="1064.5">PLANS/ORDERS:TAIS</text>
</g>
</g>
<text x="897" y="1078" font-size="8" class="nl">CPOF</text>
<rect x="850" y="1080" width="90" height="31" fill="#fff" stroke="#111" stroke-width="1.5"/>
<g class="n" font-size="4.2">
<text x="852" y="1085">OBS-POS:CP-IF<tspan x="893">TASK-ORG:CPOF</tspan></text>
<text x="852" y="1090">SIGACT:CPOF<tspan x="893">CMD-INTENT:CPOF</tspan></text>
<text x="852" y="1095">GRAPHICS:CPOF<tspan x="893" class="red">FSCM:CPOF</tspan></text>
<g class="red">
<text x="852" y="1100">PLANS/ORDERS:CPOF</text>
<text x="852" y="1105">SITREP:CPOF<tspan x="893">SPOTREP:CPOF</tspan></text>
<text x="852" y="1110">POS-RPT:CPOF<tspan x="893">WDMP PRODUCTS:CPOF</tspan></text>
</g>
</g>

<!-- CONNECTORS -->
<path class="sl" d="M905,826 L697,680" marker-end="url(#ae)"/>
<path class="sl" d="M897,835 L712,752" marker-end="url(#ae)"/>
<path class="sl" d="M897,849 L717,872" marker-end="url(#ae)"/>
<path class="sl" d="M898,863 L732,1010" marker-end="url(#ae)"/>
<path class="sl" d="M924,864 L907,897" marker-end="url(#ae)"/>
<path class="sl" d="M977,864 L1042,978" marker-start="url(#as)" marker-end="url(#ae)"/>
<path class="sl" d="M990,862 L1152,983" marker-start="url(#as)" marker-end="url(#ae)"/>
<path class="sl" d="M992,851 L1153,848"/>
<path class="sl" d="M993,827 L1154,678" marker-end="url(#ae)"/>
<path class="sl" d="M946,827 L993,612" marker-end="url(#ae)"/>
<path class="sl" d="M935,827 L962,628 L949,598" marker-end="url(#ae)"/>
<path class="sl" d="M913,827 L853,678" marker-end="url(#ae)"/>

<path class="dl" d="M697,697 L893,826" marker-end="url(#ae)"/>
<path class="dl" d="M707,798 L895,841" marker-end="url(#ae)"/>
<path class="dl" d="M713,972 L896,853" marker-end="url(#ae)"/>
<path class="dl" d="M730,1058 L905,865" marker-end="url(#ae)"/>
<path class="dl" d="M936,1092 L957,1076 L948,866" marker-end="url(#ae)"/>
<path class="dl" d="M1002,1098 L973,1080 L970,868" marker-end="url(#ae)"/>
<path class="dl" d="M1160,1068 L982,862" marker-end="url(#ae)"/>
<path class="dl" d="M1162,897 L994,858" marker-end="url(#ae)"/>
<path class="dl" d="M1158,776 L995,838" marker-end="url(#ae)"/>
<path class="dl" d="M1042,700 L978,826" marker-end="url(#ae)"/>
<path class="dl" d="M912,662 L922,825" marker-end="url(#ae)"/>

<!-- DDS -->
<rect x="897" y="827" width="95" height="36" fill="#b3b3b3" stroke="#444" stroke-width="1.5"/>
<text x="945" y="852" font-size="17" font-weight="bold" font-style="italic" fill="#1c3a9a" text-anchor="middle" text-decoration="underline">DDS</text>

<!-- LABELS -->
<g transform="translate(771,730) rotate(35)"><rect x="-28" y="-7.5" width="56" height="15" class="lb"/><text class="lt" y="3.7">Subscribe</text></g>
<g transform="translate(750,736) rotate(33)"><rect x="-22" y="-7.5" width="44" height="15" class="ld"/><text class="lt" y="3.7">Publish</text></g>
<g transform="translate(793,788) rotate(24)"><rect x="-28" y="-7.5" width="56" height="15" class="lb"/><text class="lt" y="3.7">Subscribe</text></g>
<g transform="translate(780,815) rotate(13)"><rect x="-22" y="-7.5" width="44" height="15" class="ld"/><text class="lt" y="3.7">Publish</text></g>
<g transform="translate(773,865) rotate(-7.3)"><rect x="-28" y="-7.5" width="56" height="15" class="lb"/><text class="lt" y="3.7">Subscribe</text></g>
<g transform="translate(823,900) rotate(-33)"><rect x="-22" y="-7.5" width="44" height="15" class="ld"/><text class="lt" y="3.7">Publish</text></g>
<g transform="translate(787,961) rotate(-41.5)"><rect x="-28" y="-7.5" width="56" height="15" class="lb"/><text class="lt" y="3.7">Subscribe</text></g>
<g transform="translate(810,972) rotate(-48)"><rect x="-22" y="-7.5" width="44" height="15" class="ld"/><text class="lt" y="3.7">Publish</text></g>
<g transform="translate(918,880) rotate(-63)"><rect x="-13" y="-7.5" width="26" height="15" class="lb"/><text class="lt" y="3.7">Sub</text></g>
<g transform="translate(952,937) rotate(90)"><rect x="-22" y="-7.5" width="44" height="15" class="ld"/><text class="lt" y="3.7">Publish</text></g>
<g transform="translate(971,1000) rotate(90)"><rect x="-22" y="-7.5" width="44" height="15" class="ld"/><text class="lt" y="3.7">Publish</text></g>
<g transform="translate(1013,927) rotate(60)"><rect x="-21" y="-7.5" width="42" height="15" class="lb"/><text class="lt" y="3.7">SYNCH</text></g>
<g transform="translate(1058,950) rotate(49)"><rect x="-22" y="-7.5" width="44" height="15" class="ld"/><text class="lt" y="3.7">Publish</text></g>
<g transform="translate(1082,930) rotate(37)"><rect x="-21" y="-7.5" width="42" height="15" class="lb"/><text class="lt" y="3.7">SYNCH</text></g>
<g transform="translate(1100,882) rotate(13)"><rect x="-28" y="-7.5" width="56" height="15" class="lb"/><text class="lt" y="3.7">Subscribe</text></g>
<g transform="translate(1080,848)"><rect x="-28" y="-9" width="56" height="18" class="ld"/><text class="lt" y="4" font-size="11.5">Publish</text></g>
<g transform="translate(1082,804) rotate(-21)"><rect x="-22" y="-7.5" width="44" height="15" class="ld"/><text class="lt" y="3.7">Publish</text></g>
<g transform="translate(1073,753) rotate(-43)"><rect x="-49" y="-7.5" width="98" height="15" class="lb"/><text class="lt" y="3.7">Subscribe or Sync</text></g>
<g transform="translate(1016,752) rotate(-63)"><rect x="-22" y="-7.5" width="44" height="15" class="ld"/><text class="lt" y="3.7">Publish</text></g>
<g transform="translate(960,762) rotate(-78)"><rect x="-28" y="-7.5" width="56" height="15" class="lb"/><text class="lt" y="3.7">Subscribe</text></g>
<g transform="translate(953,695) rotate(97)"><rect x="-28" y="-7.5" width="56" height="15" class="lb"/><text class="lt" y="3.7">Subscribe</text></g>
<g transform="translate(915,728) rotate(87)"><rect x="-22" y="-7.5" width="44" height="15" class="ld"/><text class="lt" y="3.7">Publish</text></g>
<g transform="translate(877,737) rotate(68)"><rect x="-21" y="-7.5" width="42" height="15" class="lb"/><text class="lt" y="3.7">SYNCH</text></g>
</svg>
</body></html>
